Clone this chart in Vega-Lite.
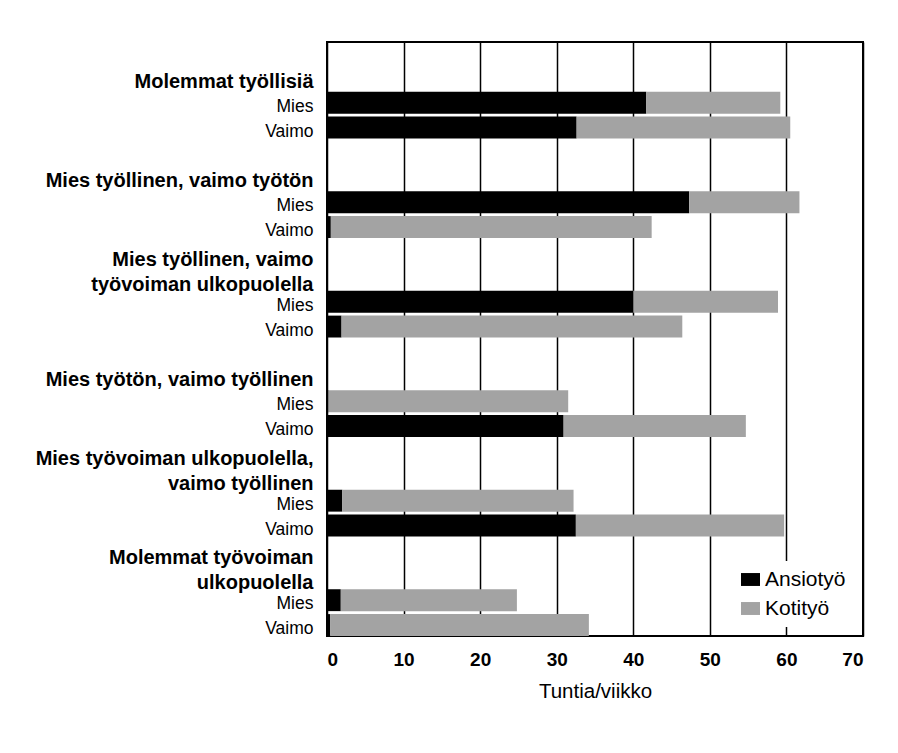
{
  "$schema": "https://vega.github.io/schema/vega-lite/v6.json",
  "width": 536,
  "height": 594,
  "padding": {"left": 35, "top": 42, "right": 5, "bottom": 5},
  "background": "white",
  "data": {
    "values": [
      {"row": "Molemmat työllisiä – Mies", "type": "Ansiotyö", "hours": 41.7},
      {"row": "Molemmat työllisiä – Mies", "type": "Kotityö", "hours": 17.5},
      {"row": "Molemmat työllisiä – Vaimo", "type": "Ansiotyö", "hours": 32.6},
      {"row": "Molemmat työllisiä – Vaimo", "type": "Kotityö", "hours": 27.9},
      {"row": "Mies työllinen, vaimo työtön – Mies", "type": "Ansiotyö", "hours": 47.3},
      {"row": "Mies työllinen, vaimo työtön – Mies", "type": "Kotityö", "hours": 14.4},
      {"row": "Mies työllinen, vaimo työtön – Vaimo", "type": "Ansiotyö", "hours": 0.5},
      {"row": "Mies työllinen, vaimo työtön – Vaimo", "type": "Kotityö", "hours": 41.9},
      {"row": "Mies työllinen, vaimo työvoiman ulkopuolella – Mies", "type": "Ansiotyö", "hours": 40.0},
      {"row": "Mies työllinen, vaimo työvoiman ulkopuolella – Mies", "type": "Kotityö", "hours": 18.9},
      {"row": "Mies työllinen, vaimo työvoiman ulkopuolella – Vaimo", "type": "Ansiotyö", "hours": 1.9},
      {"row": "Mies työllinen, vaimo työvoiman ulkopuolella – Vaimo", "type": "Kotityö", "hours": 44.5},
      {"row": "Mies työtön, vaimo työllinen – Mies", "type": "Ansiotyö", "hours": 0.2},
      {"row": "Mies työtön, vaimo työllinen – Mies", "type": "Kotityö", "hours": 31.3},
      {"row": "Mies työtön, vaimo työllinen – Vaimo", "type": "Ansiotyö", "hours": 30.9},
      {"row": "Mies työtön, vaimo työllinen – Vaimo", "type": "Kotityö", "hours": 23.8},
      {"row": "Mies työvoiman ulkopuolella, vaimo työllinen – Mies", "type": "Ansiotyö", "hours": 2.0},
      {"row": "Mies työvoiman ulkopuolella, vaimo työllinen – Mies", "type": "Kotityö", "hours": 30.2},
      {"row": "Mies työvoiman ulkopuolella, vaimo työllinen – Vaimo", "type": "Ansiotyö", "hours": 32.5},
      {"row": "Mies työvoiman ulkopuolella, vaimo työllinen – Vaimo", "type": "Kotityö", "hours": 27.2},
      {"row": "Molemmat työvoiman ulkopuolella – Mies", "type": "Ansiotyö", "hours": 1.8},
      {"row": "Molemmat työvoiman ulkopuolella – Mies", "type": "Kotityö", "hours": 23.0},
      {"row": "Molemmat työvoiman ulkopuolella – Vaimo", "type": "Ansiotyö", "hours": 0.4},
      {"row": "Molemmat työvoiman ulkopuolella – Vaimo", "type": "Kotityö", "hours": 33.8}
    ]
  },
  "mark": {"type": "bar"},
  "encoding": {
    "y": {
      "field": "row",
      "type": "nominal",
      "scale": {
        "domain": [
          "#1", "Molemmat työllisiä", "Molemmat työllisiä – Mies", "Molemmat työllisiä – Vaimo",
          "#2", "Mies työllinen, vaimo työtön", "Mies työllinen, vaimo työtön – Mies", "Mies työllinen, vaimo työtön – Vaimo",
          "Mies työllinen, vaimo", "työvoiman ulkopuolella", "Mies työllinen, vaimo työvoiman ulkopuolella – Mies", "Mies työllinen, vaimo työvoiman ulkopuolella – Vaimo",
          "#4", "Mies työtön, vaimo työllinen", "Mies työtön, vaimo työllinen – Mies", "Mies työtön, vaimo työllinen – Vaimo",
          "Mies työvoiman ulkopuolella,", "vaimo työllinen", "Mies työvoiman ulkopuolella, vaimo työllinen – Mies", "Mies työvoiman ulkopuolella, vaimo työllinen – Vaimo",
          "Molemmat työvoiman", "ulkopuolella", "Molemmat työvoiman ulkopuolella – Mies", "Molemmat työvoiman ulkopuolella – Vaimo"
        ],
        "paddingInner": 0.12,
        "paddingOuter": 0
      },
      "axis": {
        "title": null,
        "domain": false,
        "ticks": false,
        "labelPadding": 14,
        "labelLimit": 400,
        "labelColor": "black",
        "labelFont": "Liberation Sans",
        "labelExpr": "indexof(datum.value, ' – ') >= 0 ? split(datum.value, ' – ')[1] : (indexof(datum.value, '#') == 0 ? '' : datum.value)",
        "labelFontWeight": {"condition": {"test": "indexof(datum.value, ' – ') < 0", "value": "bold"}, "value": "normal"},
        "labelFontSize": {"condition": {"test": "indexof(datum.value, ' – ') < 0", "value": 20}, "value": 17.5},
        "labelOffset": {"condition": {"test": "indexof(['Mies työllinen, vaimo','työvoiman ulkopuolella','Mies työvoiman ulkopuolella,','vaimo työllinen','Molemmat työvoiman','ulkopuolella'], datum.value) >= 0", "value": 8}, "value": 4}
      }
    },
    "x": {
      "field": "hours",
      "type": "quantitative",
      "stack": "zero",
      "scale": {"domain": [0, 70], "nice": false},
      "axis": {
        "title": "Tuntia/viikko",
        "values": [0, 10, 20, 30, 40, 50, 60, 70],
        "domain": false,
        "ticks": false,
        "grid": true,
        "gridColor": "black",
        "gridWidth": 1.5,
        "gridOpacity": 1,
        "labelPadding": 14,
        "labelFont": "Liberation Sans",
        "labelFontWeight": "bold",
        "labelFontSize": 19,
        "labelColor": "black",
        "titleFont": "Liberation Sans",
        "titleFontWeight": "normal",
        "titleFontSize": 20.5,
        "titleColor": "black",
        "titlePadding": 12
      }
    },
    "color": {
      "field": "type",
      "type": "nominal",
      "scale": {"domain": ["Ansiotyö", "Kotityö"], "range": ["#000000", "#a3a3a3"]},
      "legend": {
        "orient": "bottom-right",
        "title": null,
        "fillColor": "white",
        "padding": 8,
        "offset": 9,
        "labelFont": "Liberation Sans",
        "labelFontSize": 21,
        "labelColor": "black",
        "labelOffset": 4,
        "symbolType": "M-1,-0.68H1V0.68H-1Z",
        "symbolSize": 361,
        "symbolStrokeWidth": 0,
        "rowPadding": 7
      }
    }
  },
  "config": {
    "view": {"stroke": "black", "strokeWidth": 2}
  }
}
